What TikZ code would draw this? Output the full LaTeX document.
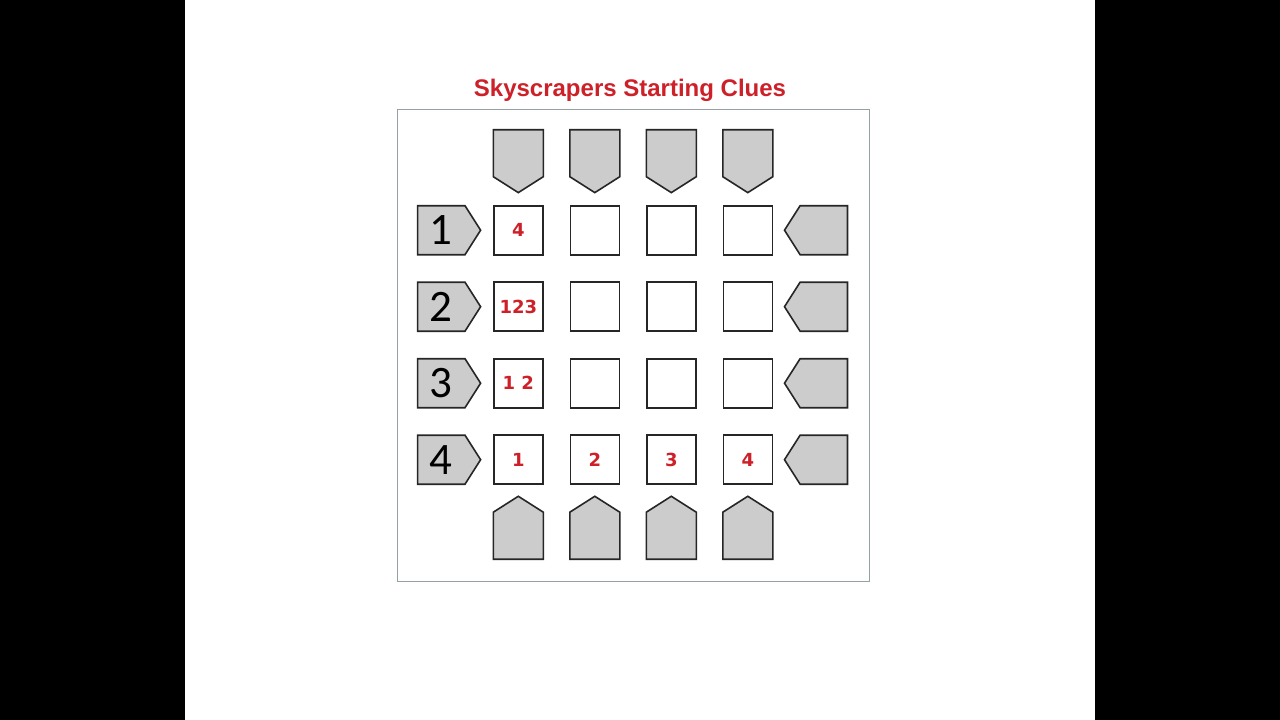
\documentclass[tikz,border=0pt]{standalone}
\usepackage{fontspec}
\setmainfont{Liberation Sans}
\newfontfamily\cluefont{Carlito}
\newfontfamily\notefont{DejaVu Sans}
\usetikzlibrary{shapes.symbols}
\definecolor{notered}{RGB}{205,32,40}
\definecolor{cluegray}{RGB}{204,204,204}
\definecolor{framegray}{RGB}{150,160,165}

\begin{document}
\begin{tikzpicture}[x=1pt, y=-1pt,
    cell/.style={draw=black!85, line width=1.6pt, fill=white, minimum size=49pt, inner sep=0pt,
      text=notered, font=\notefont\bfseries\fontsize{18}{18}\selectfont},
    clue/.style={shape=signal, draw=black!85, line width=1.6pt, fill=cluegray, inner sep=0pt,
      signal pointer angle=115, font=\cluefont\fontsize{45}{45}\selectfont},
    vclue/.style={clue, minimum width=50pt, minimum height=47pt},
    hclue/.style={clue, minimum width=63pt, minimum height=49pt},
    ]
  \def\S{76.5}
  \useasboundingbox (0,0) rectangle (1280,720);
  \fill[black] (0,0) rectangle (1280,720);
  \fill[white] (185,0) rectangle (1095,720);

  \node[anchor=base, text=notered, font=\bfseries\fontsize{24}{24}\selectfont] (title) at (630,96) {Skyscrapers Starting Clues};
  \node[draw=framegray, line width=1pt, minimum width=472pt, minimum height=472pt, inner sep=0pt] (board) at (633.3,345) {};

  % grid
  \node[cell] (11) at (518.3,230.2) {4};
  \path (11) ++(\S,0) node[cell] (12) {};
  \path (12) ++(\S,0) node[cell] (13) {};
  \path (13) ++(\S,0) node[cell] (14) {};
  \path (11) ++(0,\S) node[cell] (21) {123};
  \path (21) ++(\S,0) node[cell] (22) {};
  \path (22) ++(\S,0) node[cell] (23) {};
  \path (23) ++(\S,0) node[cell] (24) {};
  \path (21) ++(0,\S) node[cell] (31) {1 2};
  \path (31) ++(\S,0) node[cell] (32) {};
  \path (32) ++(\S,0) node[cell] (33) {};
  \path (33) ++(\S,0) node[cell] (34) {};
  \path (31) ++(0,\S) node[cell] (41) {1};
  \path (41) ++(\S,0) node[cell] (42) {2};
  \path (42) ++(\S,0) node[cell] (43) {3};
  \path (43) ++(\S,0) node[cell] (44) {4};

  % clues on top and bottom
  \path (11) ++(0,-77) node[vclue, signal to=south] (t1) {};
  \path (12) ++(0,-77) node[vclue, signal to=south] (t2) {};
  \path (13) ++(0,-77) node[vclue, signal to=south] (t3) {};
  \path (14) ++(0,-77) node[vclue, signal to=south] (t4) {};
  \path (41) ++(0,76) node[vclue, signal to=north] (b1) {};
  \path (42) ++(0,76) node[vclue, signal to=north] (b2) {};
  \path (43) ++(0,76) node[vclue, signal to=north] (b3) {};
  \path (44) ++(0,76) node[vclue, signal to=north] (b4) {};

  % clues on the left and right
  \path (11) ++(-77,0) node[hclue, signal to=east] (l1) {1};
  \path (21) ++(-77,0) node[hclue, signal to=east] (l2) {2};
  \path (31) ++(-77,0) node[hclue, signal to=east] (l3) {3};
  \path (41) ++(-77,0) node[hclue, signal to=east] (l4) {4};
  \path (14) ++(76,0) node[hclue, signal to=west] (r1) {};
  \path (24) ++(76,0) node[hclue, signal to=west] (r2) {};
  \path (34) ++(76,0) node[hclue, signal to=west] (r3) {};
  \path (44) ++(76,0) node[hclue, signal to=west] (r4) {};
\end{tikzpicture}
\end{document}
